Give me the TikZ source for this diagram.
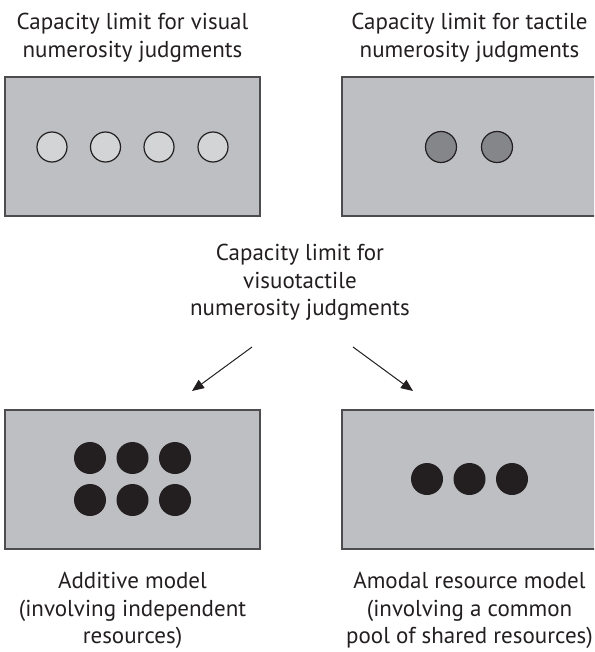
\documentclass[tikz,border=0pt]{standalone}
\usepackage{fontspec}
\setmainfont{PT Sans}
\usetikzlibrary{arrows.meta}
\definecolor{boxfill}{RGB}{190,191,195}
\definecolor{boxline}{RGB}{77,77,79}
\definecolor{lightdot}{RGB}{211,212,214}
\definecolor{greydot}{RGB}{133,134,138}
\definecolor{darkdot}{RGB}{35,31,32}
\begin{document}
\begin{tikzpicture}[x=1pt,y=-1pt,
  panel/.style={draw=boxline,fill=boxfill,line width=1.2pt,minimum width=255pt,minimum height=139pt,inner sep=0pt,rectangle},
  dotl/.style={circle,draw=darkdot,line width=1.2pt,fill=lightdot,minimum size=30pt,inner sep=0pt},
  dotg/.style={circle,draw=darkdot,line width=1.2pt,fill=greydot,minimum size=31pt,inner sep=0pt},
  dotb/.style={circle,fill=darkdot,minimum size=32pt,inner sep=0pt},
  lbl/.style={align=center,inner sep=0pt,anchor=north,text=darkdot,font=\fontsize{23}{27.5}\selectfont},
  arr/.style={draw=darkdot,line width=1pt,-{Triangle[length=12pt,width=10pt]}}]
\useasboundingbox (0,0) rectangle (594,652);
\clip (0,0) rectangle (594,652);
% panels
\node[panel] (p1) at (132.5,146.5) {};
\node[panel] (p2) at (469.5,146.5) {};
\node[panel] (p3) at (132.5,479.5) {};
\node[panel] (p4) at (469.5,479.5) {};
% visual dots
\node[dotl] (v1) at (52,147) {};
\node[dotl] (v2) at (105.5,147) {};
\node[dotl] (v3) at (159,147) {};
\node[dotl] (v4) at (213,147) {};
% tactile dots
\node[dotg] (t1) at (441,147) {};
\node[dotg] (t2) at (497,147) {};
% additive dots
\node[dotb] (a1) at (90,458) {};
\node[dotb] (a2) at (132.5,458) {};
\node[dotb] (a3) at (175,458) {};
\node[dotb] (a4) at (90,500) {};
\node[dotb] (a5) at (132.5,500) {};
\node[dotb] (a6) at (175,500) {};
% amodal dots
\node[dotb] (m1) at (427,479) {};
\node[dotb] (m2) at (469.5,479) {};
\node[dotb] (m3) at (512,479) {};
% labels
\node[lbl] (l1) at (132.5,13) {Capacity limit for visual\\numerosity judgments};
\node[lbl] (l2) at (469.5,13) {Capacity limit for tactile\\numerosity judgments};
\node[lbl] (l3) at (300,244) {Capacity limit for\\visuotactile\\numerosity judgments};
\node[lbl] (l4) at (132.5,572) {Additive model\\(involving independent\\resources)};
\node[lbl] (l5) at (469.5,572) {Amodal resource model\\(involving a common\\pool of shared resources)};
% arrows
\coordinate (s1) at (252,347);
\coordinate (e1) at (192,391);
\coordinate (s2) at (353,347);
\coordinate (e2) at (413,391);
\draw[arr] (s1) -- (e1);
\draw[arr] (s2) -- (e2);
\end{tikzpicture}
\end{document}
